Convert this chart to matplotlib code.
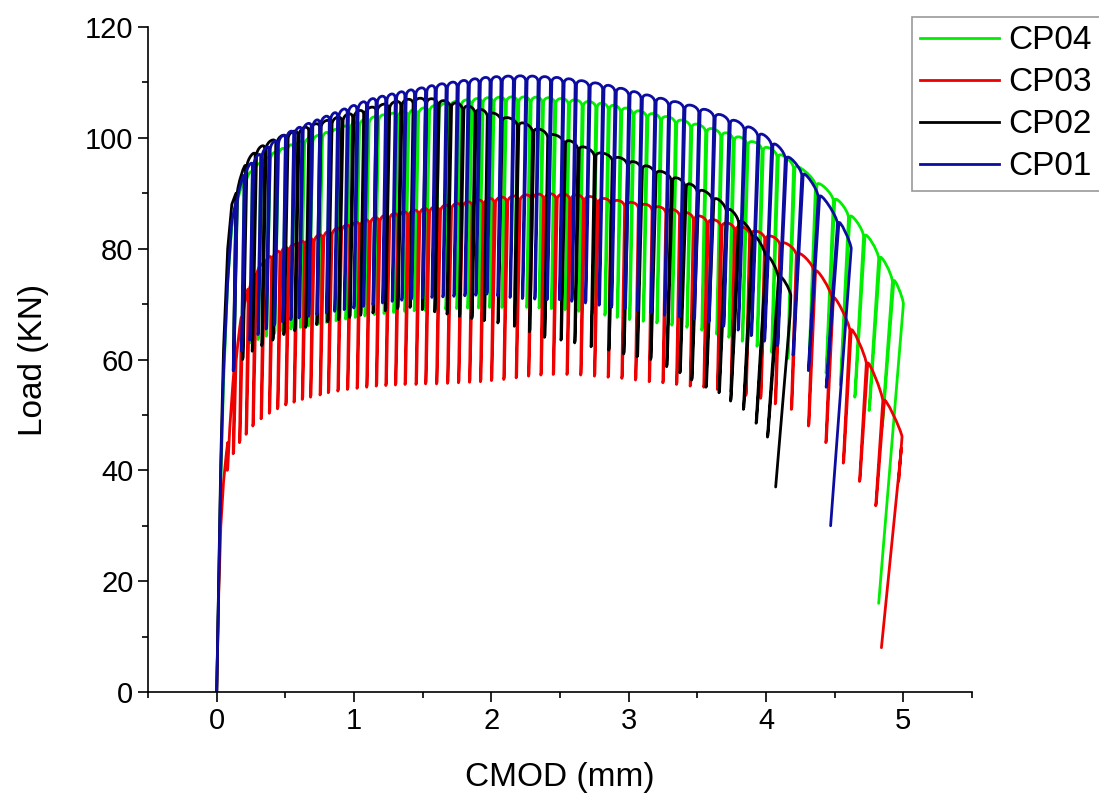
import matplotlib
matplotlib.use("Agg")
import matplotlib.pyplot as plt
from matplotlib.path import Path
from matplotlib.patches import PathPatch
from matplotlib.lines import Line2D
from matplotlib.ticker import MultipleLocator

plt.rcParams["font.family"] = ["Liberation Sans", "DejaVu Sans"]

# ---- CP01 (blue) : unload points, peak load and trough load of each cycle
cp01_x = [0.14, 0.20, 0.26, 0.32, 0.38, 0.44, 0.50, 0.56, 0.62, 0.69,
          0.75, 0.82, 0.88, 0.95, 1.02, 1.09, 1.16, 1.23, 1.30, 1.37,
          1.44, 1.52, 1.59, 1.67, 1.75, 1.83, 1.91, 1.99, 2.07, 2.16,
          2.25, 2.34, 2.43, 2.52, 2.61, 2.71, 2.81, 2.90, 3.00, 3.09,
          3.19, 3.29, 3.40, 3.51, 3.62, 3.73, 3.84, 3.94, 4.04, 4.14,
          4.26, 4.38, 4.52]
cp01_peak = [89.5, 94.0, 96.0, 97.5, 98.8, 99.8, 100.8, 101.5, 102.2, 102.9,
             103.5, 104.2, 104.8, 105.5, 106.1, 106.8, 107.3, 107.7, 108.1, 108.5,
             108.8, 109.2, 109.6, 109.9, 110.2, 110.5, 110.8, 111.0, 111.1, 111.2,
             111.2, 111.1, 111.0, 110.8, 110.5, 110.1, 109.7, 109.2, 108.6, 108.0,
             107.4, 106.8, 106.2, 105.5, 104.6, 103.6, 102.4, 101.2, 99.5, 97.2,
             94.2, 90.3, 85.5]
cp01_trough = [58.0, 61.5, 63.5, 64.5, 65.5, 66.2, 66.8, 67.2, 67.5, 67.8,
               68.1, 68.4, 68.7, 69.0, 69.3, 69.6, 69.9, 70.2, 70.5, 70.7,
               70.9, 71.1, 71.2, 71.3, 71.4, 71.5, 71.6, 71.8, 71.5, 71.2,
               71.0, 70.9, 70.8, 70.8, 70.5, 70.2, 69.8, 69.4, 69.2, 68.8,
               68.4, 68.0, 67.7, 67.3, 66.8, 66.0, 65.3, 64.3, 63.3, 62.5,
               60.8, 58.0, 55.0]
cp01_init_x = [0, 0.015, 0.03, 0.05, 0.08, 0.11]
cp01_init_y = [0, 20, 40, 58, 74, 85]
cp01_tail_x = [4.62, 4.47]
cp01_tail_y = [80, 30]

# ---- CP02 (black)
cp02_x = [0.14, 0.21, 0.28, 0.35, 0.43, 0.51, 0.59, 0.67, 0.75, 0.83,
          0.91, 0.99, 1.07, 1.16, 1.25, 1.34, 1.43, 1.52, 1.61, 1.70,
          1.79, 1.88, 1.97, 2.07, 2.19, 2.30, 2.41, 2.53, 2.63, 2.75,
          2.88, 2.99, 3.09, 3.19, 3.31, 3.41, 3.50, 3.61, 3.71, 3.80,
          3.90, 4.00, 4.09]
cp02_peak = [91.0, 95.8, 97.8, 99.0, 100.0, 100.8, 101.5, 102.2, 102.8, 103.4,
             104.0, 104.6, 105.2, 105.8, 106.3, 106.8, 107.1, 107.2, 106.9, 106.5,
             106.0, 105.4, 104.8, 104.0, 103.1, 102.0, 101.0, 99.9, 98.8, 97.6,
             96.8, 96.0, 95.3, 94.4, 93.2, 92.1, 91.0, 89.6, 87.7, 85.6,
             83.0, 79.3, 75.6]
cp02_trough = [58.0, 60.0, 61.5, 62.5, 63.5, 64.5, 65.2, 65.8, 66.3, 66.8,
               67.2, 67.6, 68.0, 68.4, 68.8, 69.2, 69.4, 69.0, 68.6, 68.2,
               67.8, 67.4, 67.0, 66.6, 66.0, 65.0, 64.0, 63.5, 63.0, 62.3,
               61.7, 61.0, 60.5, 60.0, 58.7, 57.6, 56.3, 55.0, 54.0, 52.5,
               51.0, 48.5, 46.0]
cp02_init_x = [0, 0.015, 0.03, 0.05, 0.08, 0.11]
cp02_init_y = [0, 21, 42, 62, 80, 88]
cp02_tail_x = [4.18, 4.175, 4.07]
cp02_tail_y = [71.5, 68.0, 37.0]

# ---- CP03 (red)
cp03_x = [0.08, 0.13, 0.18, 0.23, 0.28, 0.34, 0.40, 0.46, 0.52, 0.58,
          0.64, 0.70, 0.77, 0.83, 0.90, 0.97, 1.04, 1.11, 1.18, 1.25,
          1.32, 1.39, 1.47, 1.54, 1.62, 1.70, 1.78, 1.86, 1.94, 2.02,
          2.11, 2.20, 2.29, 2.38, 2.47, 2.57, 2.67, 2.77, 2.87, 2.97,
          3.07, 3.17, 3.27, 3.37, 3.47, 3.57, 3.67, 3.77, 3.88, 3.99,
          4.10, 4.22, 4.35, 4.48, 4.61, 4.73, 4.85]
cp03_peak = [46.0, 60.0, 68.5, 73.5, 76.0, 77.8, 79.0, 79.9, 80.5, 81.0,
             81.6, 82.1, 82.8, 83.3, 84.0, 84.5, 85.0, 85.4, 85.8, 86.2,
             86.5, 86.8, 87.1, 87.4, 87.7, 88.0, 88.3, 88.6, 88.9, 89.2,
             89.4, 89.6, 89.8, 89.9, 89.9, 89.8, 89.6, 89.2, 88.9, 88.5,
             88.2, 87.8, 87.3, 86.8, 86.2, 85.5, 84.9, 84.3, 83.5, 82.7,
             81.6, 79.8, 76.8, 72.0, 66.2, 60.2, 53.5]
cp03_trough = [40.0, 43.0, 45.0, 46.5, 48.0, 49.3, 50.3, 51.1, 51.8, 52.3,
               52.8, 53.2, 53.6, 54.0, 54.3, 54.6, 54.8, 55.0, 55.2, 55.3,
               55.4, 55.5, 55.5, 55.6, 55.6, 55.7, 55.8, 55.9, 56.0, 56.2,
               56.4, 56.7, 57.0, 57.2, 57.3, 57.3, 57.2, 57.0, 56.8, 56.6,
               56.3, 56.0, 55.8, 55.5, 55.2, 55.0, 54.6, 54.2, 53.5, 53.0,
               52.0, 51.0, 48.0, 45.0, 41.3, 38.0, 33.6]
cp03_init_x = [0, 0.015, 0.03, 0.05, 0.07]
cp03_init_y = [0, 18, 30, 38, 43]
cp03_tail_x = [4.99, 4.965, 4.985, 4.84]
cp03_tail_y = [46, 38, 44, 8]

# ---- CP04 (green)
cp04_x = [0.14, 0.20, 0.26, 0.32, 0.38, 0.44, 0.50, 0.56, 0.63, 0.69,
          0.76, 0.82, 0.89, 0.96, 1.03, 1.10, 1.17, 1.24, 1.31, 1.39,
          1.46, 1.54, 1.61, 1.69, 1.77, 1.85, 1.93, 2.01, 2.10, 2.19,
          2.28, 2.37, 2.46, 2.56, 2.66, 2.76, 2.85, 2.94, 3.03, 3.13,
          3.23, 3.34, 3.45, 3.56, 3.67, 3.76, 3.86, 3.97, 4.08, 4.20,
          4.36, 4.49, 4.60, 4.71, 4.82, 4.92]
cp04_peak = [89.0, 92.5, 94.5, 95.8, 96.9, 97.7, 98.4, 99.0, 99.6, 100.1,
             100.7, 101.2, 101.8, 102.4, 103.0, 103.5, 104.0, 104.3, 104.6, 104.9,
             105.2, 105.6, 106.0, 106.4, 106.7, 107.0, 107.2, 107.3, 107.4, 107.4,
             107.4, 107.3, 107.2, 107.0, 106.7, 106.4, 106.1, 105.6, 105.1, 104.6,
             104.1, 103.5, 102.8, 102.0, 101.2, 100.5, 99.7, 98.7, 97.5, 95.5,
             92.4, 89.6, 86.6, 83.2, 79.2, 75.0]
cp04_trough = [60.0, 61.8, 63.0, 63.6, 64.2, 64.7, 65.1, 65.5, 65.8, 66.1,
               66.4, 66.7, 67.0, 67.3, 67.6, 67.9, 68.1, 68.3, 68.5, 68.7,
               68.8, 68.9, 69.0, 69.1, 69.2, 69.3, 69.3, 69.4, 69.4, 69.4,
               69.4, 69.3, 69.2, 69.0, 68.7, 68.4, 68.0, 67.6, 67.2, 66.9,
               66.6, 66.2, 65.8, 65.3, 64.6, 64.0, 63.3, 62.4, 61.3, 60.2,
               59.4, 57.6, 55.4, 53.2, 50.8, 47.8]
cp04_init_x = [0, 0.015, 0.03, 0.05, 0.08, 0.11]
cp04_init_y = [0, 19, 38, 56, 74, 84]
cp04_tail_x = [5.0, 4.82]
cp04_tail_y = [70, 16]


def cycle_path(init_x, init_y, cyc_x, cyc_peak, cyc_trough, tail_x, tail_y,
               h=1.0, k0=0.0006, k1=0.0025, g=0.01):
    """Build the load/unload path: envelope arcs with an unloading spike per cycle."""
    assert len(cyc_x) == len(cyc_peak) == len(cyc_trough)
    x_end = tail_x[0]
    verts = [(init_x[0], init_y[0])]
    codes = [Path.MOVETO]
    for x, y in zip(init_x[1:], init_y[1:]):
        verts.append((x, y))
        codes.append(Path.LINETO)
    prev = None
    for x, p, t in zip(cyc_x, cyc_peak, cyc_trough):
        top = (x, p - h)
        if prev is None:
            verts.append(top)
            codes.append(Path.LINETO)
        else:
            px, pp = prev
            verts += [(px, pp + h / 3), (x, p + h / 3), top]
            codes += [Path.CURVE4] * 3
        lean = k0 + k1 * (x / x_end) ** 8
        tx = x - lean * (p - t)
        verts += [(tx, t), (tx + 0.004, t + 0.4), (x + g, p - h)]
        codes += [Path.LINETO] * 3
        prev = (x + g, p)
    px, pp = prev
    ex, ey = tail_x[0], tail_y[0]
    verts += [(px, pp + h / 3), (ex, ey + h), (ex, ey)]
    codes += [Path.CURVE4] * 3
    for x, y in zip(tail_x[1:], tail_y[1:]):
        verts.append((x, y))
        codes.append(Path.LINETO)
    return Path(verts, codes)


series = [
    ("CP04", "#00ee00", cp04_init_x, cp04_init_y, cp04_x, cp04_peak, cp04_trough, cp04_tail_x, cp04_tail_y),
    ("CP03", "#ee0000", cp03_init_x, cp03_init_y, cp03_x, cp03_peak, cp03_trough, cp03_tail_x, cp03_tail_y),
    ("CP02", "#000000", cp02_init_x, cp02_init_y, cp02_x, cp02_peak, cp02_trough, cp02_tail_x, cp02_tail_y),
    ("CP01", "#0c0ca0", cp01_init_x, cp01_init_y, cp01_x, cp01_peak, cp01_trough, cp01_tail_x, cp01_tail_y),
]

fig = plt.figure(figsize=(10.99, 7.99), dpi=100)
ax = fig.add_axes([0.1347, 0.1339, 0.7498, 0.8323])

handles = []
for name, col, ix, iy, cx, cpk, ctr, tx, ty in series:
    path = cycle_path(ix, iy, cx, cpk, ctr, tx, ty)
    ax.add_patch(PathPatch(path, fill=False, edgecolor=col, lw=2.0,
                           joinstyle="round", capstyle="round"))
    handles.append(Line2D([], [], color=col, lw=2.0, label=name))

ax.set_xlim(-0.5, 5.5)
ax.set_ylim(0, 120)
ax.spines["top"].set_visible(False)
ax.spines["right"].set_visible(False)
for s in ("left", "bottom"):
    ax.spines[s].set_linewidth(1.2)
ax.xaxis.set_major_locator(MultipleLocator(1))
ax.xaxis.set_minor_locator(MultipleLocator(0.5))
ax.yaxis.set_major_locator(MultipleLocator(20))
ax.yaxis.set_minor_locator(MultipleLocator(10))
ax.tick_params(which="major", direction="out", length=7, width=1.2, labelsize=21)
ax.tick_params(which="minor", direction="out", length=4, width=1.2)

ax.set_xlabel("CMOD (mm)", fontsize=24, labelpad=20)
ax.set_ylabel("Load (KN)", fontsize=24, labelpad=26)

leg = fig.legend(handles=handles, loc="upper left", bbox_to_anchor=(0.8298, 0.9787),
                 fontsize=24, frameon=True, fancybox=False, edgecolor="#808080",
                 borderpad=0.25, labelspacing=0.33, handlelength=2.35,
                 handletextpad=0.3, borderaxespad=0)
leg.get_frame().set_linewidth(1.2)

fig.savefig("out.png", dpi=100)
